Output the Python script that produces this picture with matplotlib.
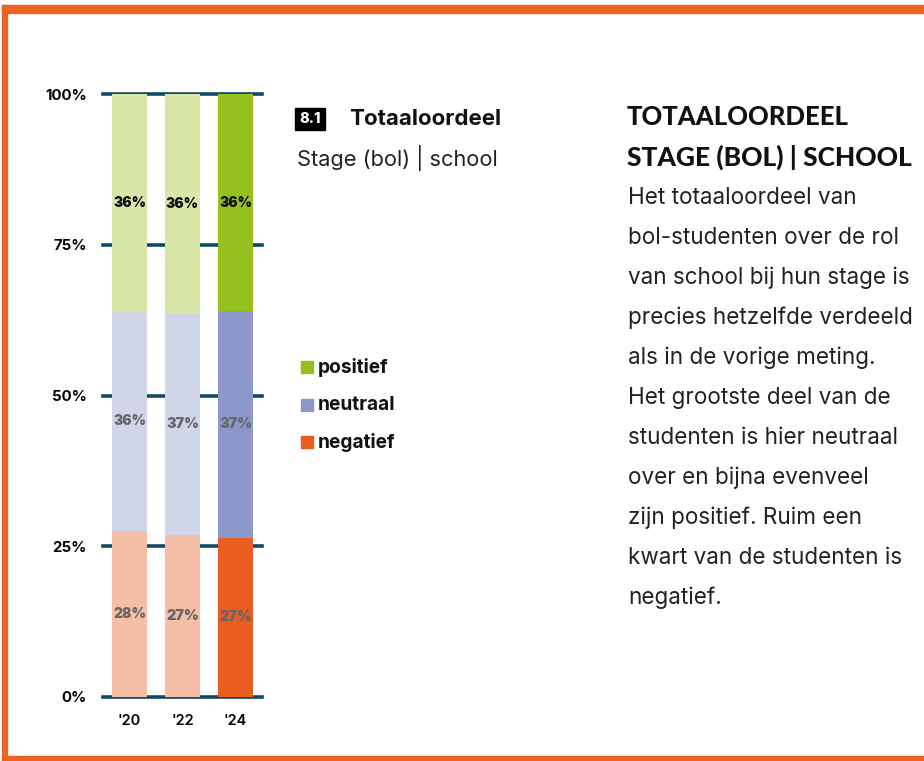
import matplotlib
matplotlib.use("Agg")
import matplotlib.pyplot as plt
from matplotlib.patches import Rectangle

years = ["'20", "'22", "'24"]
negatief = [27.5, 26.9, 26.4]
neutraal = [36.5, 36.6, 37.6]
positief = [36.0, 36.5, 36.0]
neg_labels = ["28%", "27%", "27%"]
neu_labels = ["36%", "37%", "37%"]
pos_labels = ["36%", "36%", "36%"]
yticks = [0, 25, 50, 75, 100]
ytick_labels = ["0%", "25%", "50%", "75%", "100%"]

pos_colors = ["#d8e6a8", "#d8e6a8", "#95c11f"]
neu_colors = ["#d0d5e8", "#d0d5e8", "#8c98cb"]
neg_colors = ["#f6bfa5", "#f6bfa5", "#e95e20"]
ORANGE = "#eb6424"
GRID = "#0f4a66"

W, H = 924, 761
fig = plt.figure(figsize=(W / 100, H / 100), dpi=100)
fig.patch.set_facecolor("white")
renderer = fig.canvas.get_renderer()

def fx(px):
    return px / W

def fy(py):
    return 1 - py / H

def fit(t, target_px):
    w = t.get_window_extent(renderer=renderer).width
    if w > 0:
        t.set_fontsize(t.get_fontsize() * target_px / w)
    return t

# orange frame
fig.patches.append(Rectangle((fx(2), fy(13)), 1, 8 / H, transform=fig.transFigure,
                             color=ORANGE, zorder=0))
fig.patches.append(Rectangle((fx(2), fy(761)), 5 / W, (761 - 5) / H, transform=fig.transFigure,
                             color=ORANGE, zorder=0))
fig.patches.append(Rectangle((fx(2), 0), 1, 5 / H, transform=fig.transFigure,
                             color=ORANGE, zorder=0))

ax = fig.add_axes([fx(103), fy(697), 159 / W, 603 / H])
ax.set_xlim(-0.5, 2.5)
ax.set_ylim(0, 100)
for s in ax.spines.values():
    s.set_visible(False)
ax.set_facecolor("none")

for y in yticks:
    ax.axhline(y, color=GRID, lw=2.6, zorder=1, clip_on=False)

x = list(range(len(years)))
bw = 35 / 53
bottom1 = negatief
bottom2 = [a + b for a, b in zip(negatief, neutraal)]
ax.bar(x, negatief, width=bw, color=neg_colors, zorder=2)
ax.bar(x, neutraal, width=bw, bottom=bottom1, color=neu_colors, zorder=2)
ax.bar(x, positief, width=bw, bottom=bottom2, color=pos_colors, zorder=2)

lab_font = dict(family="Inter", weight="black", fontsize=11)
for i in x:
    t = ax.text(i, negatief[i] / 2, neg_labels[i], ha="center", va="center",
                color="#666666", zorder=3, **lab_font)
    fit(t, 33)
    t = ax.text(i, bottom1[i] + neutraal[i] / 2, neu_labels[i], ha="center", va="center",
                color="#666666", zorder=3, **lab_font)
    fit(t, 33)
    t = ax.text(i, bottom2[i] + positief[i] / 2, pos_labels[i], ha="center", va="center",
                color="#111111", zorder=3, **lab_font)
    fit(t, 33)

ax.set_yticks(yticks)
ax.set_yticklabels(ytick_labels, fontsize=10.8, fontweight="bold", family="Inter")
ax.set_xticks(x)
ax.set_xticklabels(years, fontsize=10.5, fontweight="semibold", family="Inter")
ax.tick_params(axis="y", length=0, pad=11.5)
ax.tick_params(axis="x", length=0, pad=12)

# chart title block
fig.text(fx(299), fy(119), "8.1", ha="left", va="center", color="white",
         fontsize=10.5, fontweight="heavy", family="Inter",
         bbox=dict(boxstyle="square,pad=0.3", fc="black", ec="black"))
t = fig.text(fx(349), fy(119), "Totaaloordeel", ha="left", va="center", color="#111111",
             fontsize=13, fontweight="bold", family="Inter")
fit(t, 152)
t = fig.text(fx(297), fy(158), "Stage (bol) | school", ha="left", va="center", color="#222222",
             fontsize=13, family="Inter")
fit(t, 200)

# legend
leg_items = [("positief", "#95c11f", 367), ("neutraal", "#8c98cb", 405), ("negatief", "#e95e20", 442)]
leg_w = [70, 77, 77]
for (name, col, py), wpx in zip(leg_items, leg_w):
    fig.patches.append(Rectangle((fx(301), fy(py + 6)), 12 / W, 12 / H,
                                 transform=fig.transFigure, color=col))
    t = fig.text(fx(318), fy(py), name, ha="left", va="center", color="#111111",
                 fontsize=12, fontweight="bold", family="Inter")
    fit(t, wpx)

# right text block
t = fig.text(fx(627), fy(117), "TOTAALOORDEEL", ha="left", va="center", color="#111111",
             fontsize=19, fontweight="black", family="Lato")
fit(t, 221)
t = fig.text(fx(627), fy(157), "STAGE (BOL) | SCHOOL", ha="left", va="center", color="#111111",
             fontsize=19, fontweight="black", family="Lato")
fit(t, 285)
body = ["Het totaaloordeel van",
        "bol-studenten over de rol",
        "van school bij hun stage is",
        "precies hetzelfde verdeeld",
        "als in de vorige meting.",
        "Het grootste deel van de",
        "studenten is hier neutraal",
        "over en bijna evenveel",
        "zijn positief. Ruim een",
        "kwart van de studenten is",
        "negatief."]
for k, line in enumerate(body):
    t = fig.text(fx(628), fy(198 + 40 * k), line, ha="left", va="center", color="#222222",
                 fontsize=14, family="Inter")
    if k == 0:
        fit(t, 229)
        body_fs = t.get_fontsize()
    else:
        t.set_fontsize(body_fs)

fig.savefig("out.png", dpi=100)
